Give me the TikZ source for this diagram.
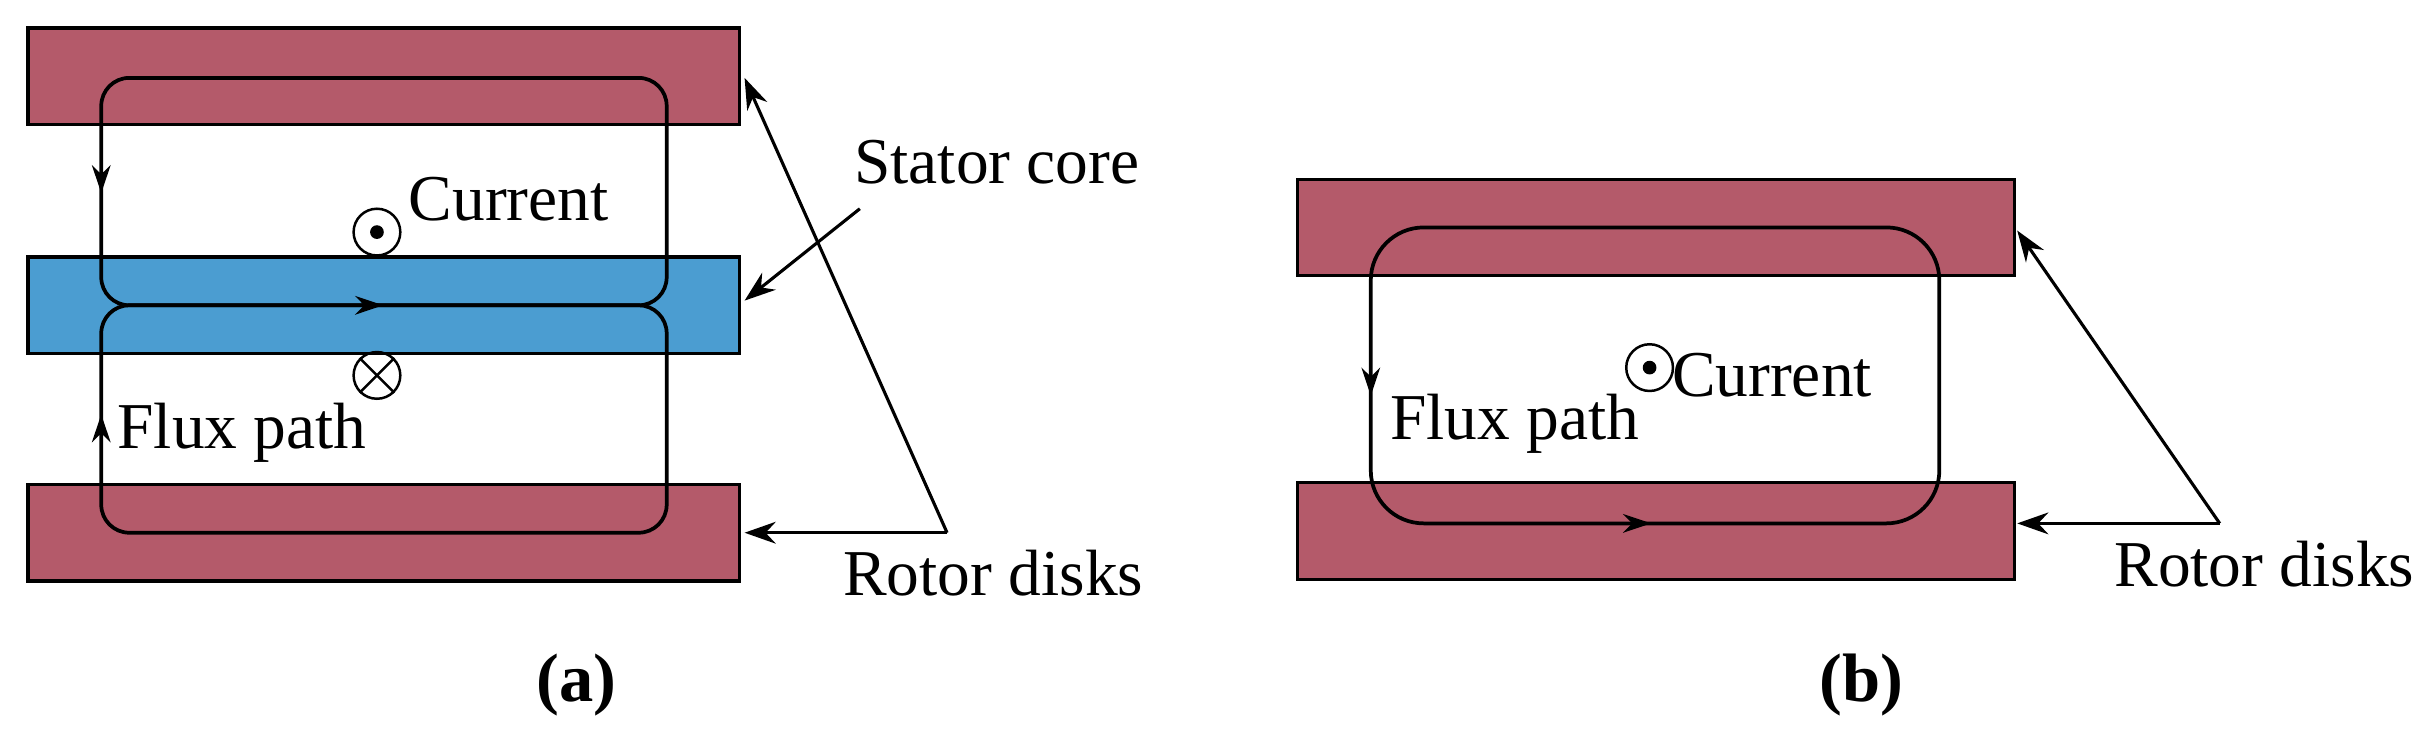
\documentclass[tikz,border=0pt]{standalone}
\usepackage{fontspec}
\setmainfont{Liberation Serif}
\usetikzlibrary{arrows.meta}
\definecolor{rotor}{HTML}{B45A6A}
\definecolor{stator}{HTML}{4B9DD1}
\begin{document}
\begin{tikzpicture}[x=0.5pt,y=-0.5pt,
  disk/.style={draw=black,line width=1pt},
  flux/.style={draw=black,line width=1.2pt,rounded corners=9pt},
  lbl/.style={font=\fontsize{21}{24}\selectfont,inner sep=0pt},
  panelcap/.style={font=\fontsize{22}{26}\selectfont\bfseries,inner sep=0pt},
  ptr/.style={line width=1pt,-{Stealth[length=10pt,width=7pt]}},
  dir/.style={line width=1pt,-{Stealth[length=9pt,width=6pt]}},
  sym/.style={circle,draw,line width=0.8pt,minimum size=15pt,inner sep=0pt}]
\useasboundingbox (0,0) rectangle (1560,481.5);
% panel a
\fill[rotor,disk] (18,18) rectangle (475,80);
\fill[stator,disk] (18,165) rectangle (475,227);
\fill[rotor,disk] (18,311) rectangle (475,373);
\draw[flux] (240,196) -- (428,196) -- (428,50) -- (65,50) -- (65,196) -- cycle;
\draw[flux] (240,196) -- (428,196) -- (428,342) -- (65,342) -- (65,196) -- cycle;
\draw[dir] (65,110) -- (65,124);
\draw[dir] (65,280) -- (65,266);
\draw[dir] (228,196) -- (246,196);
\node[sym] (ca) at (242,149) {};
\fill (ca.center) circle (2.2pt);
\node[sym] (cb) at (242,241) {};
\draw[line width=0.8pt] (cb.45) -- (cb.225) (cb.135) -- (cb.315);
\node[lbl,anchor=west] (cur) at (262,128) {Current};
\node[lbl,anchor=west] (flx) at (75,278) {Flux path};
\node[lbl,anchor=west] (sc) at (548,104) {Stator core};
\coordinate (scs) at (552,134);
\draw[ptr] (scs) -- (478,193);
\node[lbl,anchor=west] (rd) at (541,368) {Rotor disks};
\coordinate (va) at (608,342);
\draw[ptr] (va) -- (478,50);
\draw[ptr] (va) -- (478,342);
\node[panelcap] (la) at (370,440) {(a)};
% panel b
\fill[rotor,disk] (833,115) rectangle (1293,177);
\fill[rotor,disk] (833,310) rectangle (1293,372);
\draw[flux,rounded corners=17pt] (1060,146) -- (1245,146) -- (1245,336) -- (880,336) -- (880,146) -- cycle;
\draw[dir] (880,240) -- (880,254);
\draw[dir] (1043,336) -- (1060,336);
\node[sym] (cc) at (1059,236) {};
\fill (cc.center) circle (2.2pt);
\node[lbl,anchor=west] (curb) at (1073,241) {Current};
\node[lbl,anchor=west] (flxb) at (892,272) {Flux path};
\node[lbl,anchor=west] (rdb) at (1357,362) {Rotor disks};
\coordinate (vb) at (1425,336);
\draw[ptr] (vb) -- (1295,148);
\draw[ptr] (vb) -- (1295,336);
\node[panelcap] (lb) at (1195,440) {(b)};
\end{tikzpicture}
\end{document}
